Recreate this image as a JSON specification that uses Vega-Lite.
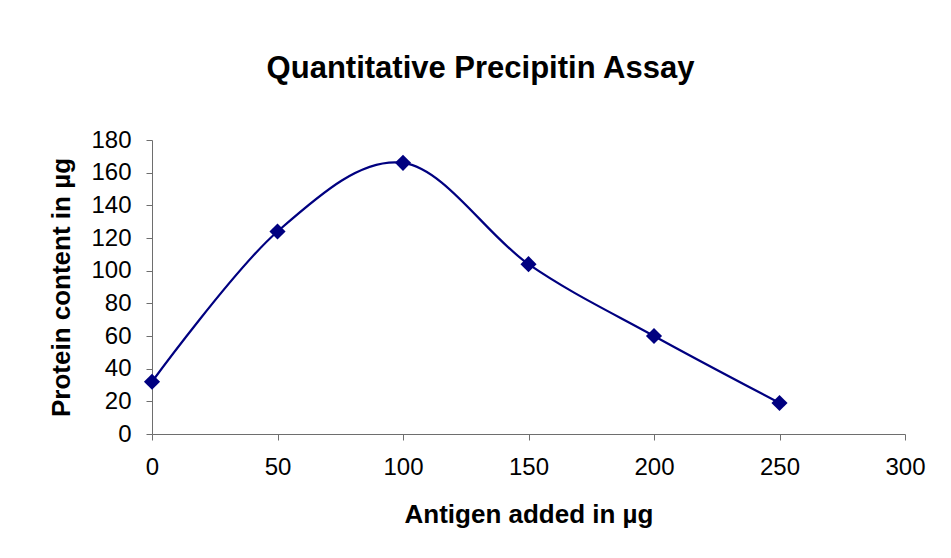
{
  "$schema": "https://vega.github.io/schema/vega-lite/v6.json",
  "width": 753,
  "height": 294,
  "autosize": {"type": "none"},
  "padding": {"left": 152, "top": 140, "right": 46, "bottom": 124},
  "background": "white",
  "title": {
    "text": "Quantitative Precipitin Assay",
    "font": "Liberation Sans",
    "fontSize": 31,
    "fontWeight": "bold",
    "color": "black",
    "anchor": "middle",
    "dx": -48,
    "offset": 43
  },
  "data": {
    "values": [
      {"antigen": 0, "protein": 32},
      {"antigen": 50, "protein": 124},
      {"antigen": 100, "protein": 166},
      {"antigen": 150, "protein": 104},
      {"antigen": 200, "protein": 60},
      {"antigen": 250, "protein": 19}
    ]
  },
  "config": {
    "view": {"stroke": null},
    "axis": {
      "labelFont": "Liberation Sans",
      "labelFontSize": 24,
      "labelColor": "black",
      "titleFont": "Liberation Sans",
      "titleFontSize": 26,
      "titleFontWeight": "bold",
      "titleColor": "black",
      "domainColor": "#6e6e6e",
      "tickColor": "#6e6e6e",
      "tickSize": 6,
      "grid": false
    }
  },
  "encoding": {
    "x": {
      "field": "antigen",
      "type": "quantitative",
      "scale": {"domain": [0, 300], "nice": false},
      "axis": {"values": [0, 50, 100, 150, 200, 250, 300], "title": "Antigen added in µg", "labelPadding": 15, "titlePadding": 22, "labelFlush": false}
    },
    "y": {
      "field": "protein",
      "type": "quantitative",
      "scale": {"domain": [0, 180], "nice": false},
      "axis": {"values": [0, 20, 40, 60, 80, 100, 120, 140, 160, 180], "title": "Protein content in µg", "labelPadding": 15, "titlePadding": 16, "labelFlush": false}
    }
  },
  "layer": [
    {"mark": {"type": "line", "color": "#000080", "strokeWidth": 2.2, "interpolate": "cardinal"}},
    {"mark": {"type": "point", "shape": "diamond", "filled": true, "color": "#000080", "size": 260, "opacity": 1}}
  ]
}
